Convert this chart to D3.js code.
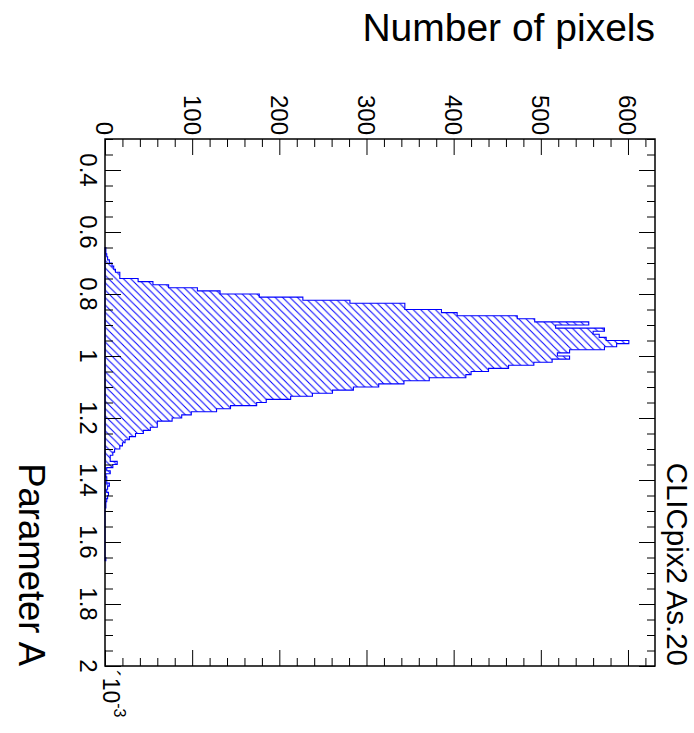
<!DOCTYPE html>
<html>
<head>
<meta charset="utf-8">
<script src="https://cdn.jsdelivr.net/npm/d3@7"></script>
<style>
  body { margin: 0; background: #fff; }
  svg { display: block; }
  text { font-family: "Liberation Sans", Arial, Helvetica, sans-serif; fill: #000; }
</style>
</head>
<body>
<svg id="chart" width="694" height="733"></svg>
<script>
// Histogram of Parameter A (bin lower edges, bin width 0.01) and pixel counts
const binLowEdges = [
  0.65, 0.66, 0.67, 0.68, 0.69, 0.70, 0.71, 0.72, 0.73, 0.74,
  0.75, 0.76, 0.77, 0.78, 0.79, 0.80, 0.81, 0.82, 0.83, 0.84,
  0.85, 0.86, 0.87, 0.88, 0.89, 0.90, 0.91, 0.92, 0.93, 0.94,
  0.95, 0.96, 0.97, 0.98, 0.99, 1.00, 1.01, 1.02, 1.03, 1.04,
  1.05, 1.06, 1.07, 1.08, 1.09, 1.10, 1.11, 1.12, 1.13, 1.14,
  1.15, 1.16, 1.17, 1.18, 1.19, 1.20, 1.21, 1.22, 1.23, 1.24,
  1.25, 1.26, 1.27, 1.28, 1.29, 1.30, 1.31, 1.32, 1.33, 1.34,
  1.35, 1.36, 1.37, 1.38, 1.39, 1.40, 1.41, 1.42, 1.43, 1.44,
  1.45, 1.46, 1.47, 1.48, 1.65
];
const pixelCounts = [
  1, 1, 2, 3, 5, 8, 10, 12, 17, 17,
  38, 55, 73, 106, 132, 177, 227, 281, 344, 344,
  386, 404, 473, 493, 555, 517, 573, 560, 567, 575,
  601, 587, 573, 533, 519, 533, 513, 492, 463, 440,
  420, 414, 372, 343, 314, 285, 261, 238, 213, 185,
  174, 144, 128, 99, 88, 77, 60, 60, 52, 44,
  35, 28, 23, 20, 17, 11, 9, 6, 6, 14,
  9, 2, 6, 1, 2, 2, 5, 3, 2, 4,
  3, 2, 1, 1, 1
];
const binWidth = 0.01;

// Axis ranges and tick values
const paramDomain = [0.3, 2.0];
const countDomain = [0, 631];
const paramMajorTicks = [0.4, 0.6, 0.8, 1.0, 1.2, 1.4, 1.6, 1.8, 2.0];
const paramTickLabels = ["0.4", "0.6", "0.8", "1", "1.2", "1.4", "1.6", "1.8", "2"];
const paramMinorStep = 0.05;
const countMajorTicks = [0, 100, 200, 300, 400, 500, 600];
const countMinorStep = 20;

const svg = d3.select("#chart");
const frame = { left: 105, right: 655, top: 139, bottom: 666 };

// Parameter A runs down the page, pixel counts run to the right
const y = d3.scaleLinear().domain(paramDomain).range([frame.top, frame.bottom]);
const x = d3.scaleLinear().domain(countDomain).range([frame.left, frame.right]);

// Hatch fill
const defs = svg.append("defs");
const hs = 7.4;
defs.append("pattern")
  .attr("id", "hatch")
  .attr("patternUnits", "userSpaceOnUse")
  .attr("width", hs).attr("height", hs)
  .append("path")
  .attr("d", `M${-1},${-1} L${hs + 1},${hs + 1} M${-1},${hs - 1} L1,${hs + 1} M${hs - 1},-1 L${hs + 1},1`)
  .attr("stroke", "#0000ff")
  .attr("stroke-width", 1)
  .attr("fill", "none");

// Histogram outline as a stepped path from the zero line
const bins = binLowEdges.map((lo, i) => ({ lo: lo, hi: +(lo + binWidth).toFixed(4), v: pixelCounts[i] }));
let d = `M${x(0)},${y(bins[0].lo)}`;
bins.forEach((b, i) => {
  d += ` L${x(b.v)},${y(b.lo)} L${x(b.v)},${y(b.hi)}`;
  const next = bins[i + 1];
  if (!next || Math.abs(next.lo - b.hi) > 1e-6) {
    d += ` L${x(0)},${y(b.hi)}`;
    if (next) d += ` L${x(0)},${y(next.lo)}`;
  }
});
d += " Z";

svg.append("path")
  .attr("d", d)
  .attr("fill", "url(#hatch)")
  .attr("stroke", "#0000ff")
  .attr("stroke-width", 1.1)
  .attr("stroke-linejoin", "miter");

// Tick sets
const paramMinor = d3.range(Math.round(paramDomain[0] / paramMinorStep), Math.round(paramDomain[1] / paramMinorStep) + 1)
  .map(k => +(k * paramMinorStep).toFixed(4))
  .filter(v => !paramMajorTicks.some(m => Math.abs(m - v) < 1e-6));
const countMinor = d3.range(0, countDomain[1], countMinorStep)
  .filter(v => !countMajorTicks.includes(v));

const majorLen = 16, minorLen = 8;

function drawAxis(axisGen, tx, ty, values, len) {
  const g = svg.append("g")
    .attr("transform", `translate(${tx},${ty})`)
    .call(axisGen.tickValues(values).tickSize(len).tickSizeOuter(0).tickFormat(""));
  g.select(".domain").remove();
  g.selectAll(".tick line").attr("stroke", "#000").attr("stroke-width", 1);
  return g;
}

// Count axis: ticks along top and bottom edges, pointing into the frame
drawAxis(d3.axisTop(x), 0, frame.top, countMajorTicks, -majorLen);
drawAxis(d3.axisTop(x), 0, frame.top, countMinor, -minorLen);
drawAxis(d3.axisBottom(x), 0, frame.bottom, countMajorTicks, -majorLen);
drawAxis(d3.axisBottom(x), 0, frame.bottom, countMinor, -minorLen);

// Parameter axis: ticks along left and right edges, pointing into the frame
drawAxis(d3.axisLeft(y), frame.left, 0, paramMajorTicks, -majorLen);
drawAxis(d3.axisLeft(y), frame.left, 0, paramMinor, -minorLen);
drawAxis(d3.axisRight(y), frame.right, 0, paramMajorTicks, -majorLen);
drawAxis(d3.axisRight(y), frame.right, 0, paramMinor, -minorLen);

// Frame
svg.append("rect")
  .attr("x", frame.left).attr("y", frame.top)
  .attr("width", frame.right - frame.left).attr("height", frame.bottom - frame.top)
  .attr("fill", "none").attr("stroke", "#000").attr("stroke-width", 1.5);

// Count tick labels (rotated, read top to bottom)
svg.append("g").selectAll("text")
  .data(countMajorTicks)
  .join("text")
  .attr("transform", v => `translate(${x(v)},${frame.top - 4}) rotate(90)`)
  .attr("text-anchor", "end")
  .attr("dy", "0.36em")
  .attr("font-size", 24)
  .text(v => String(v));

// Parameter tick labels
svg.append("g").selectAll("text")
  .data(paramMajorTicks)
  .join("text")
  .attr("transform", v => `translate(80,${y(v)}) rotate(90)`)
  .attr("text-anchor", "middle")
  .attr("font-size", 24)
  .text((v, i) => paramTickLabels[i]);

// Exponent marker at the end of the parameter axis
const expo = svg.append("text")
  .attr("transform", `translate(103,${frame.bottom + 4}) rotate(90)`)
  .attr("font-size", 23);
expo.append("tspan").text("´10");
expo.append("tspan").attr("font-size", 16).attr("dy", "-0.7em").text("-3");

// Axis titles
svg.append("text")
  .attr("x", frame.right).attr("y", 41)
  .attr("text-anchor", "end")
  .attr("font-size", 39)
  .text("Number of pixels");

svg.append("text")
  .attr("transform", `translate(19,${frame.bottom}) rotate(90)`)
  .attr("text-anchor", "end")
  .attr("font-size", 36.5)
  .text("Parameter A");

svg.append("text")
  .attr("transform", `translate(667,${frame.bottom}) rotate(90)`)
  .attr("text-anchor", "end")
  .attr("font-size", 29.5)
  .text("CLICpix2 As.20");
</script>
</body>
</html>
